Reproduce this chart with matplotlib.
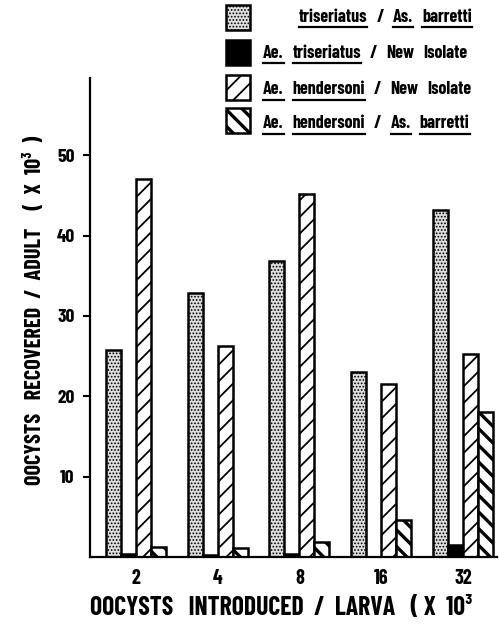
import matplotlib
matplotlib.use('Agg')
import matplotlib.pyplot as plt
from matplotlib.patches import Rectangle
import numpy as np

# oocysts introduced per larva (x 10^3)
doses = ['2', '4', '8', '16', '32']

# oocysts recovered per adult (x 10^3)
tri_barretti = [25.8, 32.8, 36.8, 23.0, 43.2]
tri_new = [0.4, 0.3, 0.4, 0.0, 1.5]
hen_new = [47.0, 26.2, 45.2, 21.5, 25.2]
hen_barretti = [1.2, 1.1, 1.9, 4.6, 18.1]

yticks = [10, 20, 30, 40, 50]

plt.rcParams['font.family'] = ['Barlow Condensed', 'Roboto Condensed',
                               'DejaVu Sans']
plt.rcParams['font.weight'] = 'bold'
plt.rcParams['hatch.linewidth'] = 1.3

W, H = 499, 635
fig = plt.figure(figsize=(W / 100, H / 100), dpi=100)
ax = fig.add_axes([90 / W, 1 - 557 / H, 407 / W, 479 / H])

styles = [
    dict(facecolor='#dedede', hatch='.....'),
    dict(facecolor='black', hatch=None),
    dict(facecolor='white', hatch='//'),
    dict(facecolor='white', hatch='\\\\'),
]
hatch_lw = [0.8, 1.0, 1.3, 2.4]
series = [tri_barretti, tri_new, hen_new, hen_barretti]


def set_hlw(patch, lw):
    if hasattr(patch, 'set_hatch_linewidth'):
        patch.set_hatch_linewidth(lw)


x = np.arange(len(doses))
width = 0.183
for i, (vals, st) in enumerate(zip(series, styles)):
    bars = ax.bar(x + (i - 1.5) * width, vals, width, edgecolor='black',
                  linewidth=1.8, **st)
    for b in bars:
        set_hlw(b, hatch_lw[i])

ax.set_xlim(-0.556, 4.41)
ax.set_ylim(0, 59.6)
ax.set_xticks(x)
ax.set_xticklabels(doses, fontsize=14.5)
ax.set_yticks(yticks)
ax.set_yticklabels([str(t) for t in yticks], fontsize=14)
ax.tick_params(axis='x', length=0, pad=9)
ax.tick_params(axis='y', length=5, width=1.5, pad=6)
for s in ['top', 'right']:
    ax.spines[s].set_visible(False)
ax.spines['left'].set_linewidth(1.6)
ax.spines['bottom'].set_linewidth(1.6)

fig.text(35 / W, 1 - 310 / H, 'OOCYSTS   RECOVERED  /  ADULT    (  X  10³  )',
         rotation=90, ha='center', va='center', fontsize=16)
fig.text(90 / W, 1 - 608 / H, 'OOCYSTS   INTRODUCED  /  LARVA   ( X  10³',
         ha='left', va='center', fontsize=18.5)

# legend drawn by hand in pixel coordinates
lax = fig.add_axes([0, 0, 1, 1], zorder=5)
lax.set_xlim(0, W)
lax.set_ylim(H, 0)
lax.axis('off')

rows = [
    (17, 299, [('triseriatus', True), ('/', False), ('As.', True), ('barretti', True)]),
    (53, 263, [('Ae.', True), ('triseriatus', True), ('/', False), ('New', False), ('Isolate', False)]),
    (90, 263, [('Ae.', True), ('hendersoni', True), ('/', False), ('New', False), ('Isolate', False)]),
    (124, 263, [('Ae.', True), ('hendersoni', True), ('/', False), ('As.', True), ('barretti', True)]),
]
box_tops = [5, 40, 75, 108]

for i, (top, st) in enumerate(zip(box_tops, styles)):
    p = lax.add_patch(Rectangle((226, top), 24, 25, edgecolor='black',
                                linewidth=1.8, **st))
    set_hlw(p, hatch_lw[i])

fig.canvas.draw()
renderer = fig.canvas.get_renderer()
inv = lax.transData.inverted()
for yc, x0, words in rows:
    xpos = x0
    for word, under in words:
        t = lax.text(xpos, yc, word, ha='left', va='center', fontsize=13)
        bb = t.get_window_extent(renderer)
        (bx0, by0), (bx1, by1) = inv.transform([[bb.x0, bb.y0], [bb.x1, bb.y1]])
        if under:
            lax.plot([bx0, bx1], [yc + 10, yc + 10], color='black', lw=1.6)
        xpos = bx1 + 9

fig.savefig('out.png', dpi=100)
